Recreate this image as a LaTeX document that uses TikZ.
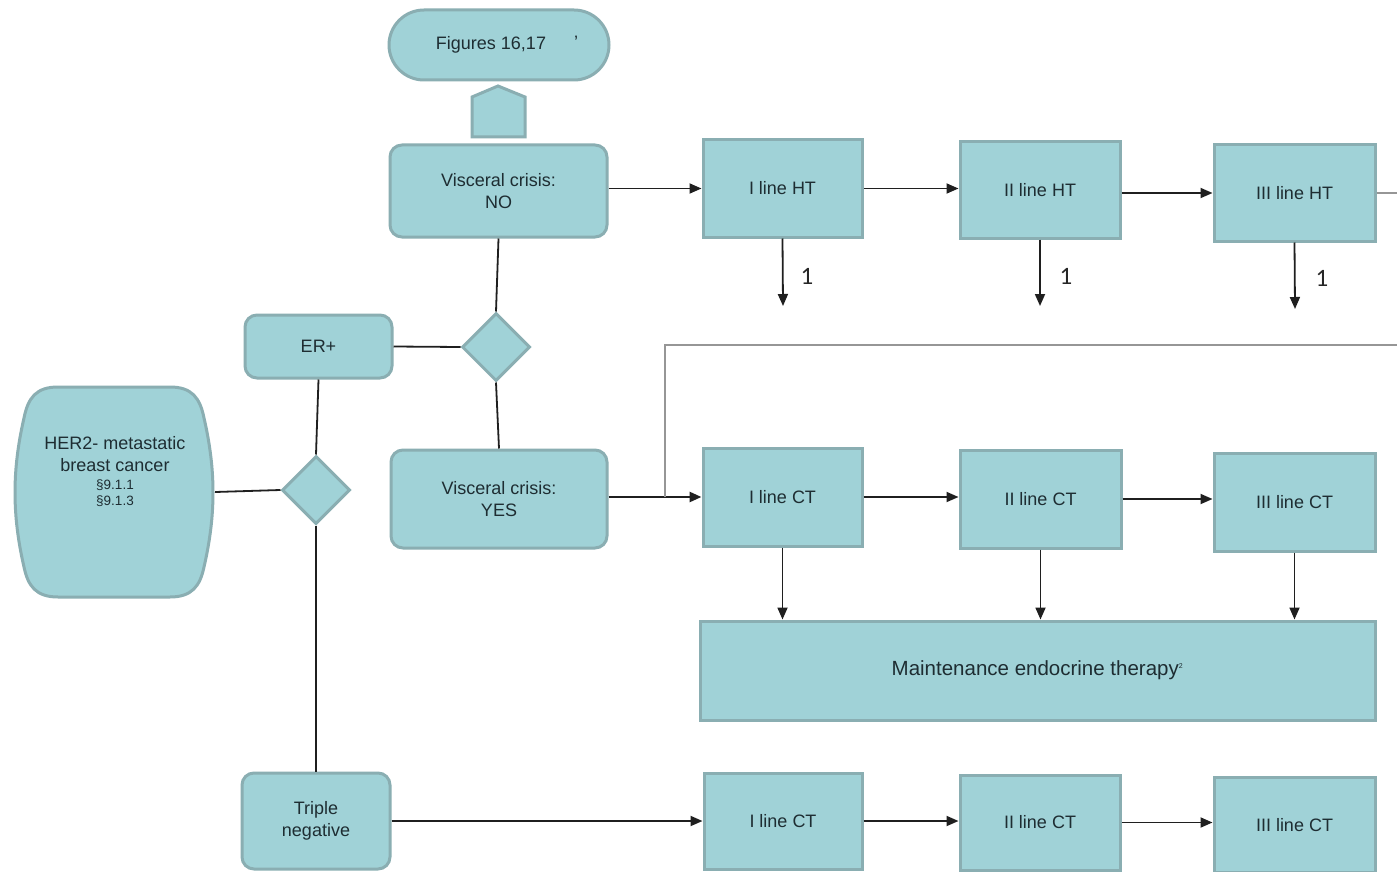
\documentclass[tikz,border=0pt]{standalone}
\usepackage{fontspec}
\setmainfont{Liberation Sans}
\newfontfamily\numfont{Carlito}
\usetikzlibrary{shapes.geometric,arrows.meta}
\definecolor{fillc}{RGB}{160,210,215}
\definecolor{bordc}{RGB}{138,174,178}
\definecolor{txtc}{RGB}{30,45,50}
\definecolor{greyl}{RGB}{150,150,150}
\tikzset{
  box/.style={draw=bordc, line width=3pt, fill=fillc, text=txtc, font=\fontsize{18}{22}\selectfont, align=center, inner sep=0pt},
  rbox/.style={box, rounded corners=12pt},
  dia/.style={box, diamond, minimum width=68pt, minimum height=68pt},
  conn/.style={line width=1.8pt, draw=black!88},
  arr/.style={conn, -{Triangle[length=12pt,width=10pt]}},
  onelbl/.style={font=\numfont\fontsize{25}{28}\selectfont, text=black!85},
}
\begin{document}
\begin{tikzpicture}[x=1pt,y=-1pt]
\path[use as bounding box, fill=white] (0,0) rectangle (1397,872);
% top
\node[box, rounded corners=35pt, minimum width=220pt, minimum height=70pt] (fig) at (499,45) {\hspace*{-16pt}Figures 16,17};
\node[text=txtc, font=\fontsize{18}{20}\selectfont] (apos) at (576,42) {'};
\draw[draw=bordc, line width=3pt, fill=fillc] (472,137) -- (472,97) -- (498,86) -- (525,97) -- (525,137) -- cycle;
% left column
\node[rbox, minimum width=217pt, minimum height=92pt] (no) at (498.5,191) {Visceral crisis:\\NO};
\node[rbox, minimum width=147pt, minimum height=63pt] (er) at (318.5,346.5) {ER+};
\node[rbox, minimum width=216pt, minimum height=98pt] (yes) at (499,499) {Visceral crisis:\\YES};
\node[rbox, minimum width=148pt, minimum height=96pt] (trip) at (316,821) {Triple\\negative};
\node[dia] (d1) at (496,347) {};
\node[dia] (d2) at (316,490) {};
% HER2 shape
\draw[draw=bordc, line width=3pt, fill=fillc]
  (58,387) -- (170,387)
  .. controls (192,387) and (200,398) .. (204,418)
  .. controls (216,470) and (216,515) .. (204,567)
  .. controls (200,586) and (192,597) .. (170,597)
  -- (58,597)
  .. controls (36,597) and (28,586) .. (24,567)
  .. controls (12,515) and (12,470) .. (24,418)
  .. controls (28,398) and (36,387) .. (58,387) -- cycle;
\node[minimum width=203pt, minimum height=210pt, inner sep=0pt] (her) at (113.5,492) {};
\node[text=txtc, align=center, font=\fontsize{18}{22}\selectfont] (hertxt) at (115,472) {HER2- metastatic\\breast cancer\\[-4pt]{\fontsize{13.5}{16}\selectfont §9.1.1}\\[-6pt]{\fontsize{13.5}{16}\selectfont §9.1.3}};
% HT row
\node[box, minimum width=159pt, minimum height=97pt] (ht1) at (782.5,188.5) {I line HT};
\node[box, minimum width=160pt, minimum height=96pt] (ht2) at (1040,190) {II line HT};
\node[box, minimum width=161pt, minimum height=96pt] (ht3) at (1294.5,193) {III line HT};
% CT row
\node[box, minimum width=159pt, minimum height=98pt] (ct1) at (782.5,497) {I line CT};
\node[box, minimum width=161pt, minimum height=98pt] (ct2) at (1040.5,499) {II line CT};
\node[box, minimum width=161pt, minimum height=98pt] (ct3) at (1294.5,502) {III line CT};
\node[box, minimum width=675pt, minimum height=99pt, font=\fontsize{20.5}{24}\selectfont] (maint) at (1037.5,670.5) {Maintenance endocrine therapy\textsuperscript{\fontsize{7}{8}\selectfont 2}};
% bottom row
\node[box, minimum width=158pt, minimum height=96pt] (b1) at (783,821) {I line CT};
\node[box, minimum width=160pt, minimum height=95pt] (b2) at (1040,822.5) {II line CT};
\node[box, minimum width=161pt, minimum height=95pt] (b3) at (1294.5,825) {III line CT};
% connectors: tree
\draw[conn] (no.south) -- (d1.north);
\draw[conn] (d1.south) -- (yes.north);
\draw[conn] (er.east) -- (d1.west);
\draw[conn] (er.south) -- (d2.north);
\draw[conn] (d2.south) -- (trip.north);
\draw[conn] (her.east) -- (d2.west);
% HT arrows
\draw[arr] (no.east |- ht1.west) -- (ht1.west);
\draw[arr] (ht1.east) -- (ht2.west |- ht1.east);
\draw[arr] (ht2.east |- ht3.west) -- (ht3.west);
\coordinate (edge1) at (1397,193);
\draw[line width=1.2pt, draw=greyl] (ht3.east) -- (edge1);
\coordinate (e1) at (783,306);
\coordinate (e2) at (1040,306);
\coordinate (e3) at (1295,309);
\draw[arr] (ht1.south) -- (e1);
\draw[arr] (ht2.south) -- (e2);
\draw[arr] (ht3.south) -- (e3);
\node[onelbl] (l1) at (807,276) {1};
\node[onelbl] (l2) at (1066,276) {1};
\node[onelbl] (l3) at (1322,278) {1};
% CT arrows
\draw[arr, line width=2.6pt] (yes.east |- ct1.west) -- (ct1.west);
\coordinate (g1) at (665,497);
\coordinate (g2) at (665,345);
\coordinate (g3) at (1397,345);
\draw[line width=1.4pt, draw=greyl] (g1) -- (g2) -- (g3);
\draw[arr] (ct1.east) -- (ct2.west |- ct1.east);
\draw[arr] (ct2.east) -- (ct3.west |- ct2.east);
\draw[arr] (ct1.south) -- (ct1.south |- maint.north);
\draw[arr] (ct2.south) -- (ct2.south |- maint.north);
\draw[arr] (ct3.south) -- (ct3.south |- maint.north);
% bottom arrows
\draw[arr] (trip.east) -- (b1.west);
\draw[arr] (b1.east) -- (b2.west |- b1.east);
\draw[arr] (b2.east) -- (b3.west |- b2.east);
\end{tikzpicture}
\end{document}
